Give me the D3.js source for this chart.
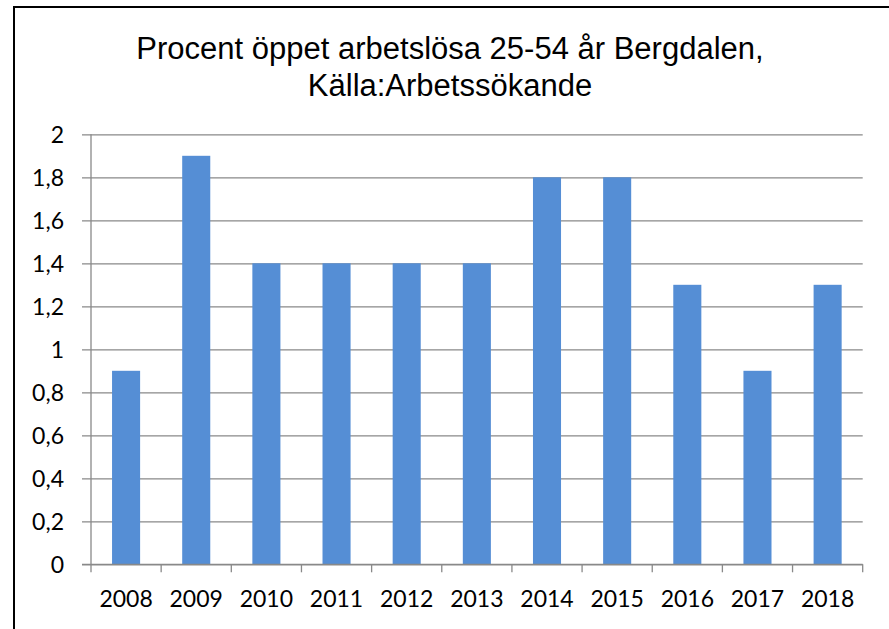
<!DOCTYPE html>
<html>
<head>
<meta charset="utf-8">
<script src="https://cdn.jsdelivr.net/npm/d3@7"></script>
<style>
    body { margin: 0; background: #fff; }
</style>
</head>
<body>
<div id="chart"></div>
<script>
// Chart data
const years = ['2008', '2009', '2010', '2011', '2012', '2013', '2014', '2015', '2016', '2017', '2018'];
const values = [0.9, 1.9, 1.4, 1.4, 1.4, 1.4, 1.8, 1.8, 1.3, 0.9, 1.3];
const yTicks = [0, 0.2, 0.4, 0.6, 0.8, 1, 1.2, 1.4, 1.6, 1.8, 2];
const titleLines = ['Procent öppet arbetslösa 25-54 år Bergdalen,', 'Källa:Arbetssökande'];

const width = 889;
const height = 629;
const plotLeft = 91;
const plotRight = 862.7;
const plotTop = 134.3;
const plotBottom = 564.3;
const gridColor = '#898989';
const labelFont = 'Lato, "Open Sans", sans-serif';

const svg = d3.select('#chart').append('svg')
    .attr('width', width)
    .attr('height', height);

// Frame (only top and left edges are visible in the picture)
svg.append('path')
    .attr('d', `M14,${height} L14,7 L${width},7`)
    .attr('fill', 'none')
    .attr('stroke', '#000')
    .attr('stroke-width', 2);

// Title
svg.append('text')
    .attr('x', 450)
    .attr('y', 58.5)
    .attr('text-anchor', 'middle')
    .style('font-family', '"Liberation Sans", Arial, sans-serif')
    .style('font-size', '31px')
    .attr('fill', '#000')
    .selectAll('tspan')
    .data(titleLines)
    .enter()
    .append('tspan')
    .attr('x', 450)
    .attr('dy', (d, i) => i === 0 ? 0 : 37.5)
    .text(d => d);

// Scales
const x = d3.scaleBand()
    .domain(years)
    .range([plotLeft, plotRight])
    .paddingInner(0.6)
    .paddingOuter(0.3);

const y = d3.scaleLinear()
    .domain([0, 2])
    .range([plotBottom, plotTop]);

const fmt = d => d3.format('.1~f')(d).replace('.', ',');

// Horizontal gridlines + y tick labels
const yAxis = d3.axisLeft(y)
    .tickValues(yTicks)
    .tickFormat(fmt)
    .tickSize(-(plotRight - plotLeft) - 9);

const yg = svg.append('g')
    .attr('transform', `translate(${plotRight},0)`)
    .call(yAxis);
yg.select('.domain').remove();
yg.selectAll('.tick line')
    .attr('x1', 0)
    .attr('x2', -(plotRight - plotLeft) - 9)
    .attr('stroke', gridColor)
    .attr('stroke-width', 1.3);
yg.selectAll('.tick text')
    .attr('x', -(plotRight - 64))
    .attr('dy', '0.36em')
    .attr('text-anchor', 'end')
    .style('font-family', labelFont)
    .style('font-size', '23px')
    .attr('fill', '#000');

// Vertical axis line
svg.append('line')
    .attr('x1', plotLeft).attr('x2', plotLeft)
    .attr('y1', y(2)).attr('y2', y(0))
    .attr('stroke', gridColor)
    .attr('stroke-width', 1.3);

// Bars
svg.append('g')
    .selectAll('rect')
    .data(years.map((yr, i) => ({year: yr, value: values[i]})))
    .enter()
    .append('rect')
    .attr('x', d => x(d.year))
    .attr('y', d => y(d.value))
    .attr('width', x.bandwidth())
    .attr('height', d => y(0) - y(d.value))
    .attr('fill', '#558ed5');

// Category boundary ticks below the x axis
const step = x.step();
const boundaries = years.map(yr => x(yr) - (step - x.bandwidth()) / 2)
    .concat([x(years[years.length - 1]) + x.bandwidth() + (step - x.bandwidth()) / 2]);
svg.append('g')
    .selectAll('line')
    .data(boundaries)
    .enter()
    .append('line')
    .attr('x1', d => d).attr('x2', d => d)
    .attr('y1', y(0)).attr('y2', y(0) + 8)
    .attr('stroke', gridColor)
    .attr('stroke-width', 1.3);

// Zero line on top
svg.append('line')
    .attr('x1', plotLeft - 9).attr('x2', plotRight)
    .attr('y1', y(0)).attr('y2', y(0))
    .attr('stroke', gridColor)
    .attr('stroke-width', 1.3);

// X labels
svg.append('g')
    .selectAll('text')
    .data(years)
    .enter()
    .append('text')
    .attr('x', d => x(d) + x.bandwidth() / 2)
    .attr('y', 607)
    .attr('text-anchor', 'middle')
    .style('font-family', labelFont)
    .style('font-size', '23px')
    .attr('fill', '#000')
    .text(d => d);
</script>
</body>
</html>
